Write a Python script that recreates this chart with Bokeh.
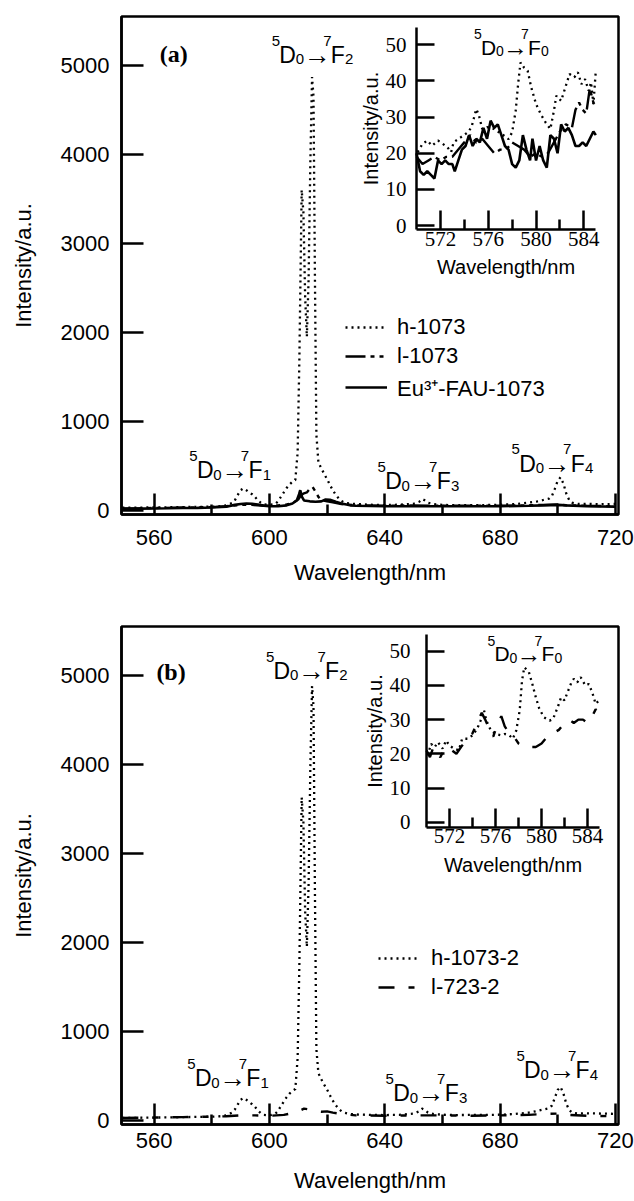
from bokeh.plotting import figure
from bokeh.models import (Range1d, LinearAxis, FixedTicker, ColumnDataSource,
                          Legend, LegendItem, Label)
from bokeh.layouts import column
from bokeh.embed import file_html
from bokeh.resources import INLINE
from bokeh.core.properties import value

# ------------------------------------------------------------------ data
# axes
X_TICKS = [560, 600, 640, 680, 720]
X_MINOR = [580, 620, 660, 700]
Y_TICKS = [0, 1000, 2000, 3000, 4000, 5000]
IN_X_TICKS = [572, 576, 580, 584]
IN_X_MINOR = [574, 578, 582]
IN_Y_TICKS = [0, 10, 20, 30, 40, 50]

# panel (a) main spectra
a_h_wl = [549, 555, 560, 565, 570, 575, 580, 583, 585, 587, 588, 589, 590, 591, 592, 593, 594, 595, 596, 597,
          598, 600, 602, 603, 604, 605, 606, 607, 608, 609, 609.8, 610.4, 611.2, 611.8, 612.4, 613.0, 613.6, 614.2,
          614.8, 615.3, 615.8, 616.3, 617, 618, 619, 620, 621, 622, 623, 624, 625, 626, 628, 630, 635, 640, 645,
          650, 652, 653, 654, 655, 657, 660, 665, 670, 675, 680, 685, 690, 693, 695, 697, 698, 699, 700, 701, 702,
          703, 704, 705, 707, 710, 715, 720]
a_h_int = [30, 30, 32, 33, 35, 38, 40, 45, 55, 80, 110, 170, 225, 245, 225, 200, 180, 150, 110, 85,
           65, 60, 70, 100, 150, 200, 250, 290, 320, 340, 650, 1700, 3600, 3350, 2400, 1950, 2600, 3900,
           4870, 4650, 2600, 850, 540, 470, 410, 350, 285, 225, 175, 135, 105, 85, 75, 70, 62, 58, 62,
           72, 95, 125, 110, 85, 68, 60, 55, 58, 58, 62, 68, 85, 100, 115, 130, 160, 240, 330, 370, 300,
           185, 115, 85, 70, 72, 68, 70]

a_l_wl = [549, 555, 560, 570, 580, 585, 590, 594, 598, 600, 603, 606, 608, 610, 611, 612, 613, 614, 615, 616,
          617, 618, 620, 622, 625, 630, 640, 650, 660, 670, 680, 690, 695, 700, 703, 710, 720]
a_l_int = [20, 22, 25, 30, 35, 45, 60, 60, 50, 50, 55, 65, 80, 120, 170, 190, 200, 240, 260, 210,
           150, 115, 100, 90, 70, 55, 50, 55, 50, 50, 50, 55, 60, 65, 55, 50, 45]

a_e_wl = [549, 555, 560, 565, 570, 575, 580, 585, 588, 590, 592, 594, 596, 598, 600, 603, 606, 608, 609.5, 610.3,
          610.7, 611.3, 612, 614, 616, 618, 619.5, 621, 623, 625, 628, 630, 640, 650, 660, 670, 680, 690, 695, 700,
          703, 710, 715, 720]
a_e_int = [15, 18, 20, 22, 25, 27, 30, 40, 60, 70, 75, 72, 65, 52, 45, 45, 55, 75, 110, 180,
           225, 150, 110, 100, 95, 100, 120, 118, 95, 75, 55, 50, 45, 45, 45, 45, 45, 50, 55, 60,
           55, 45, 42, 40]

# panel (a) inset 570-585 nm
a_in_h_wl = [570.1, 570.5, 570.9, 571.3, 571.8, 572.2, 572.6, 572.9, 573.1, 573.7, 574.3, 574.6, 575.0, 575.2,
             575.5, 575.9, 576.5, 576.9, 577.3, 577.7, 578.0, 578.3, 578.5, 578.7, 579.0, 579.3, 579.6, 580.0,
             580.4, 580.8, 581.2, 581.5, 581.7, 582.1, 582.5, 582.8, 583.2, 583.5, 583.8, 584.1, 584.4, 584.6,
             584.8, 585.0]
a_in_h = [20.3, 22.6, 23.5, 22.1, 23.5, 22.6, 21.6, 20.3, 23.0, 24.4, 25.8, 27.2, 32.2, 30.8,
          26.7, 27.2, 26.7, 25.8, 24.9, 23.9, 25.8, 31.8, 39.1, 45.1, 43.7, 42.8, 38.2, 33.6,
          30.8, 28.5, 26.7, 31.8, 35.9, 34.5, 38.7, 41.9, 41.0, 42.4, 39.1, 40.5, 37.3, 39.6,
          33.6, 42.8]
a_in_l_wl = [570.0, 570.5, 571.0, 571.5, 572.0, 572.5, 573.0, 573.5, 574.0, 574.5, 575.0, 575.5, 576.0, 576.5,
             577.0, 577.5, 578.0, 578.5, 579.0, 579.5, 580.0, 580.5, 581.0, 581.5, 582.0, 582.5, 583.0, 583.3,
             583.6, 583.9, 584.2, 584.5, 584.8, 585.0]
a_in_l = [19, 17, 18, 19, 18, 19, 19, 21, 23, 25, 23, 24, 22, 20,
          21, 21, 23, 22, 21, 19, 20, 19, 20, 23, 26, 28, 27, 32,
          34, 32, 31, 38, 34, 33]
a_in_e_wl = [570.0, 570.3, 570.6, 570.9, 571.2, 571.5, 571.8, 572.1, 572.4, 572.7, 573.0, 573.2, 573.5, 573.8,
             574.1, 574.4, 574.7, 575.0, 575.3, 575.6, 575.9, 576.2, 576.5, 576.8, 577.1, 577.4, 577.7, 578.0,
             578.3, 578.6, 578.9, 579.2, 579.5, 579.7, 580.0, 580.3, 580.6, 580.9, 581.2, 581.5, 581.8, 582.1,
             582.4, 582.7, 583.0, 583.3, 583.6, 583.9, 584.2, 584.5, 584.8, 585.0]
a_in_e = [20, 15, 14, 15, 14, 13, 18, 17, 18, 17, 17, 15, 18, 21,
          22, 25, 22, 24, 23, 27, 24, 29, 27, 28, 25, 22, 21, 17,
          16, 18, 25, 21, 18, 24, 18, 22, 18, 16, 25, 24, 20, 28,
          26, 27, 25, 22, 22, 23, 22, 24, 26, 25]

# panel (b) main spectra
b_h_wl = a_h_wl
b_h_int = [25, 28, 30, 32, 35, 37, 40, 45, 55, 85, 120, 175, 230, 250, 230, 205, 180, 150, 110, 80,
           60, 55, 70, 105, 160, 210, 260, 300, 330, 350, 700, 1750, 3630, 3350, 2350, 1950, 2650, 3950,
           4880, 4650, 2550, 800, 530, 460, 400, 345, 280, 220, 170, 130, 100, 85, 70, 65, 60, 58, 60,
           75, 100, 130, 115, 85, 70, 62, 58, 60, 60, 62, 70, 85, 105, 120, 135, 165, 250, 340, 374, 300,
           185, 115, 85, 75, 78, 75, 72]
b_l_wl = [549, 555, 560, 570, 580, 585, 590, 595, 600, 605, 608, 610, 612, 614, 616, 618, 620, 622, 625, 630,
          640, 650, 660, 670, 680, 690, 695, 700, 703, 710, 720]
b_l_int = [25, 28, 30, 35, 40, 45, 55, 55, 50, 60, 80, 100, 130, 120, 100, 95, 100, 85, 70, 55,
           50, 55, 55, 50, 55, 60, 70, 75, 60, 50, 45]

# panel (b) inset
b_in_h_wl = [570.1, 570.4, 570.7, 571.0, 571.4, 571.7, 572.0, 572.4, 572.8, 573.1, 573.6, 574.0, 574.4, 574.7,
             575.0, 575.2, 575.6, 576.0, 576.5, 576.8, 577.2, 577.5, 577.8, 578.1, 578.3, 578.5, 578.9, 579.2,
             579.5, 579.8, 580.2, 580.7, 581.0, 581.4, 581.7, 582.0, 582.2, 582.6, 582.8, 583.1, 583.4, 583.8,
             584.1, 584.4, 584.7, 585.0]
b_in_h = [19.5, 22.9, 21.9, 23.4, 21.5, 23.9, 22.4, 21.5, 21.0, 24.4, 24.4, 25.4, 27.3, 29.7,
          32.7, 29.7, 26.8, 25.8, 25.4, 25.8, 25.4, 24.4, 26.8, 32.7, 41.4, 45.3, 43.9, 40.4,
          36.5, 33.2, 30.7, 29.7, 30.2, 33.6, 36.5, 35.6, 37.5, 40.9, 41.9, 40.9, 42.4, 40.0,
          40.4, 38.0, 34.6, 35.6]
b_in_l_wl = [570.0, 570.3, 570.6, 570.9, 571.2, 571.5, 571.8, 572.2, 572.6, 573.0, 573.5, 574.0, 574.4, 574.8,
             575.1, 575.5, 575.8, 576.1, 576.5, 576.8, 577.2, 577.6, 578.0, 578.5, 579.0, 579.5, 580.0, 580.5,
             581.0, 581.5, 582.0, 582.4, 582.8, 583.2, 583.6, 584.0, 584.4, 584.7, 585.0]
b_in_l = [21, 19, 22, 20, 19, 21, 20, 21, 20, 22, 24, 26, 29, 32,
          30, 27, 25, 28, 31, 28, 26, 25, 23, 22, 22, 22, 23, 25,
          26, 27, 29, 30, 29, 30, 30, 29, 31, 33, 32]

# transition labels: (wavelength, intensity, lower J)
a_trans = [(600.8, 5116, "2"), (572.2, 450, "1"), (637.5, 326, "3"), (684.0, 525, "4")]
a_trans_in = [(574.8, 49.3, "0")]
b_trans = [(598.8, 5050, "2"), (571.5, 471, "1"), (640.3, 303, "3"), (685.7, 561, "4")]
b_trans_in = [(575.3, 49.2, "0")]

# ------------------------------------------------------------------ style
FONT = "Liberation Sans"
NARROW = "Liberation Sans Narrow"
X_RANGE = (548.7, 721.1)
Y_RANGE = (-48, 5550)
FRAME_W, FRAME_H = 497, 498
FIG_W = 634
B_L, B_R = 121, 16


def trans_source(anchors, big, small):
    k = big / 21.0
    layout = [("5", 0.0, -13.0, small), ("D", 7.0, 0.0, big), ("0", 22.0, 4.0, small),
              ("\u2192", 29.0, 0.0, big + 4), ("7", 47.0, -13.0, small), ("F", 54.0, 0.0, big),
              (None, 67.0, 4.0, small)]
    d = dict(x=[], y=[], text=[], dx=[], dy=[], fs=[])
    for (ax, ay, low) in anchors:
        for (t, dx, dy, fs) in layout:
            d["x"].append(ax)
            d["y"].append(ay)
            d["text"].append(low if t is None else t)
            d["dx"].append(dx * k)
            d["dy"].append(dy * k)
            d["fs"].append("%dpx" % fs)
    return ColumnDataSource(d)


def make_panel(height, b_top, b_bottom, x_lab_stand, x_axlab_stand, inset_geom, in_y_stand,
               series, in_series, trans, trans_in, tag, tag_xy, legend_loc, legend_glyph_w,
               legend_standoff):
    p = figure(width=FIG_W, height=height, x_range=Range1d(*X_RANGE), y_range=Range1d(*Y_RANGE),
               output_backend="svg", toolbar_location=None,
               min_border_left=B_L, min_border_right=B_R, min_border_top=b_top,
               min_border_bottom=b_bottom)
    p.grid.visible = False
    p.outline_line_color = "black"
    p.outline_line_width = 2.5
    p.outline_line_alpha = 1.0
    p.background_fill_color = "white"
    p.border_fill_color = "white"

    xa = p.xaxis[0]
    ya = p.yaxis[0]
    for ax in (xa, ya):
        ax.axis_line_width = 2.5
        ax.axis_line_color = "black"
        ax.major_tick_line_width = 2.5
        ax.minor_tick_line_width = 2.5
        ax.major_tick_line_color = "black"
        ax.minor_tick_line_color = "black"
        ax.major_tick_out = 0
        ax.minor_tick_out = 0
        ax.major_label_text_font = FONT
        ax.major_label_text_font_size = "22px"
        ax.major_label_text_color = "black"
        ax.axis_label_text_font = FONT
        ax.axis_label_text_font_size = "22px"
        ax.axis_label_text_font_style = "normal"
        ax.axis_label_text_color = "black"
    xa.ticker = FixedTicker(ticks=X_TICKS, minor_ticks=X_MINOR)
    xa.major_tick_in = 21
    xa.minor_tick_in = 10
    xa.major_label_standoff = x_lab_stand
    xa.axis_label = "Wavelength/nm"
    xa.axis_label_standoff = x_axlab_stand
    ya.ticker = FixedTicker(ticks=Y_TICKS)
    ya.major_tick_in = 22
    ya.minor_tick_in = 0
    ya.major_label_standoff = 12
    ya.axis_label = "Intensity/a.u."
    ya.axis_label_standoff = 22

    # inset ranges mapped on the same frame
    left, right, zero, fifty, xaxis_px = inset_geom
    ppx = (right - left) / 15.0
    xs = 570 - left / ppx
    ppy = (zero - fifty) / 50.0
    p.extra_x_ranges = {"ix": Range1d(xs, xs + FRAME_W / ppx)}
    p.extra_y_ranges = {"iy": Range1d(-(FRAME_H - zero) / ppy, zero / ppy)}
    y_axis_val = -(xaxis_px - zero) / ppy
    y_top_val = 54.8

    ixa = LinearAxis(x_range_name="ix", y_range_name="iy", fixed_location=y_axis_val,
                     bounds=(570, 585), ticker=FixedTicker(ticks=IN_X_TICKS, minor_ticks=IN_X_MINOR),
                     axis_label="Wavelength/nm")
    iya = LinearAxis(x_range_name="ix", y_range_name="iy", fixed_location=570,
                     bounds=(y_axis_val, y_top_val), ticker=FixedTicker(ticks=IN_Y_TICKS),
                     axis_label="Intensity/a.u.")
    for ax in (ixa, iya):
        ax.axis_line_width = 2.5
        ax.major_tick_line_width = 2.5
        ax.minor_tick_line_width = 2.5
        ax.major_tick_out = 0
        ax.minor_tick_out = 0
        ax.major_label_text_font = NARROW
        ax.major_label_text_font_size = "21px"
        ax.major_label_text_color = "black"
        ax.axis_label_text_font = FONT
        ax.axis_label_text_font_size = "20px"
        ax.axis_label_text_font_style = "normal"
        ax.axis_label_text_color = "black"
    ixa.major_tick_in = 19
    ixa.minor_tick_in = 10
    ixa.major_label_standoff = 2
    ixa.axis_label_standoff = 7
    iya.major_tick_in = 18
    iya.minor_tick_in = 0
    iya.major_label_standoff = in_y_stand
    iya.axis_label_standoff = 1
    p.add_layout(ixa, "below")
    p.add_layout(iya, "left")

    # main spectra
    items = []
    for (wl, it, dash, lw, lab) in series:
        r = p.line(wl, it, line_color="black", line_width=lw, line_dash=dash)
        items.append(LegendItem(label=lab, renderers=[r]))
    for (wl, it, dash, lw) in in_series:
        p.line(wl, it, line_color="black", line_width=lw, line_dash=dash,
               x_range_name="ix", y_range_name="iy")

    leg = Legend(items=items, location=legend_loc, background_fill_alpha=0, border_line_alpha=0,
                 padding=0, margin=0, spacing=3, glyph_width=legend_glyph_w, glyph_height=20,
                 label_standoff=legend_standoff, label_text_font=FONT, label_text_font_size="22px",
                 label_text_color="black")
    p.add_layout(leg)

    # transition labels
    p.text(x="x", y="y", text="text", x_offset="dx", y_offset="dy", text_font_size="fs",
           source=trans_source(trans, 23, 15), text_font=value(FONT), text_color="black",
           text_baseline="alphabetic", text_align="left")
    p.text(x="x", y="y", text="text", x_offset="dx", y_offset="dy", text_font_size="fs",
           source=trans_source(trans_in, 21, 14), text_font=value(FONT), text_color="black",
           text_baseline="alphabetic", text_align="left", x_range_name="ix", y_range_name="iy")

    p.add_layout(Label(x=tag_xy[0], y=tag_xy[1], text=tag, text_font="Liberation Serif",
                       text_font_style="bold", text_font_size="24px", text_color="black",
                       text_baseline="alphabetic"))
    return p


pa = make_panel(
    618, 16, 104, 15, 12, (295.0, 474.3, 209.0, 28.3, 213.3), 10,
    [(a_h_wl, a_h_int, "2 4", 2.3, "h-1073"),
     (a_l_wl, a_l_int, "20 5 4 5 4 5", 2.4, "l-1073"),
     (a_e_wl, a_e_int, "solid", 2.6, "Eu\u00b3\u207a-FAU-1073")],
    [(a_in_h_wl, a_in_h, "2 4", 2.3), (a_in_l_wl, a_in_l, "20 5 4 5 4 5", 2.4),
     (a_in_e_wl, a_in_e, "solid", 2.6)],
    a_trans, a_trans_in, "(a)", (562.0, 5133), (224, 112), 42, 10)

pb = make_panel(
    583, 8, 77, 8, 17, (305.0, 477.6, 195.7, 24.7, 200.7), 16,
    [(b_h_wl, b_h_int, "2 4", 2.3, "h-1073-2"),
     (b_l_wl, b_l_int, "16 14 6 14", 2.4, "l-723-2")],
    [(b_in_h_wl, b_in_h, "2 4", 2.3), (b_in_l_wl, b_in_l, "16 14 6 14", 2.4)],
    b_trans, b_trans_in, "(b)", (560.8, 5039), (257, 124), 39, 14)

layout = column(pa, pb, spacing=0)
open("out.html", "w").write(file_html(layout, INLINE))
